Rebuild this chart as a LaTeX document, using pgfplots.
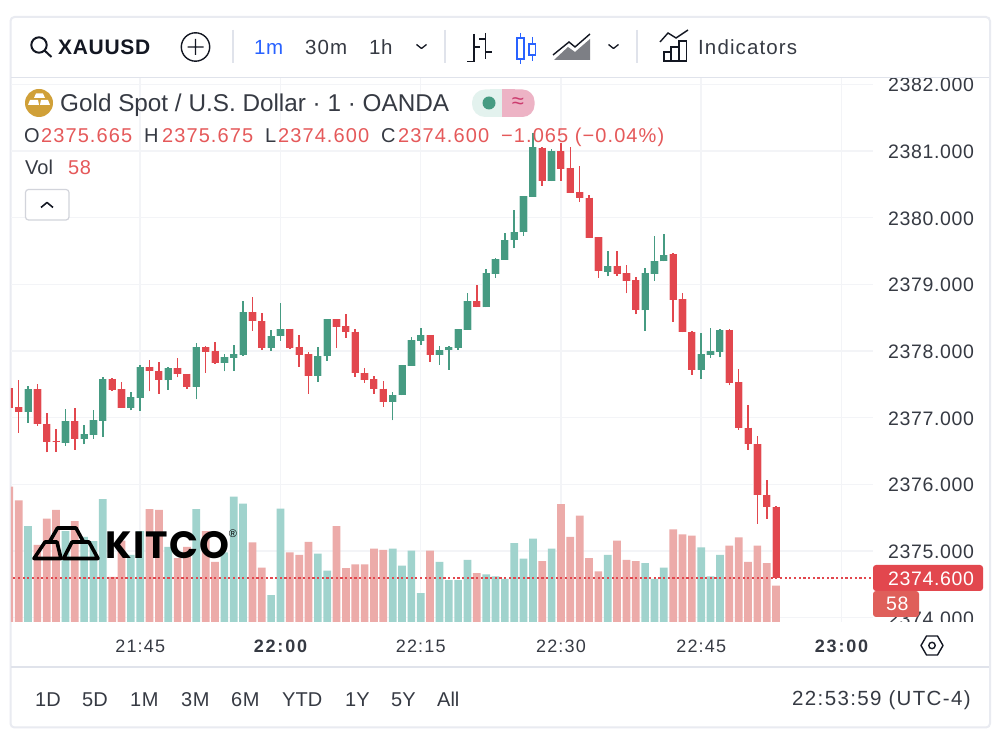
\documentclass[border=0pt]{standalone}
\usepackage{pgfplots}
\usepackage{pgfplotstable}
\usepackage{fontspec}
\pgfplotsset{compat=1.18}
\setmainfont{Liberation Sans}
\newfontfamily\kitcofont{Poppins}[LetterSpace=3]
\newfontfamily\lsthree{Liberation Sans}[LetterSpace=3.2]
\newfontfamily\lsfive{Liberation Sans}[LetterSpace=5.4]
\newfontfamily\lssix{Liberation Sans}[LetterSpace=6.6]
\newfontfamily\lsten{Liberation Sans}[LetterSpace=10]
\definecolor{ink}{HTML}{131722}
\definecolor{upc}{HTML}{469B82}
\definecolor{dnc}{HTML}{E2474E}
\definecolor{upv}{HTML}{A0D3CD}
\definecolor{dnv}{HTML}{ECABA9}
\definecolor{gridc}{HTML}{F3F4F7}
\definecolor{framec}{HTML}{E0E3EB}
\definecolor{txtred}{HTML}{E5595A}
\definecolor{tvblue}{HTML}{2962FF}
\definecolor{goldc}{HTML}{D0A038}
\definecolor{pillg}{HTML}{E3F2EE}
\definecolor{pillr}{HTML}{EDB3C5}
\definecolor{pilltx}{HTML}{CC3B6E}
\definecolor{volTag}{HTML}{DF5F5A}
\pgfplotstableread{
x o h l c v
-27 2377.09 2377.475 2376.925 2377.425 153
-23 2376.625 2377.125 2376.58 2376.945 145
-21 2376.68 2376.89 2376.60 2376.75 136
-20 2376.74 2377.11 2376.68 2376.96 129
-19 2376.95 2377.61 2376.715 2377.58 196
-16 2377.145 2377.39 2377.11 2377.31 107
-15 2377.30 2377.785 2377.10 2377.765 145
-12 2377.56 2377.755 2377.415 2377.75 120
-9 2377.465 2378.115 2377.275 2378.055 180
-6 2377.82 2377.95 2377.695 2377.905 111
-5 2377.90 2378.09 2377.705 2377.95 200
-4 2377.94 2378.745 2377.93 2378.58 189
-1 2378.045 2378.315 2378.00 2378.23 43
0 2378.225 2378.72 2378.15 2378.335 181
4 2377.63 2378.06 2377.54 2377.925 109
5 2377.92 2378.475 2377.85 2378.475 82
12 2377.235 2377.39 2376.96 2377.34 117
13 2377.34 2377.785 2377.335 2377.785 90
14 2377.78 2378.205 2377.78 2378.16 114
15 2378.155 2378.34 2378.095 2378.24 46
17 2377.945 2378.08 2377.79 2378.02 96
18 2378.015 2378.07 2377.72 2378.055 67
19 2378.045 2378.325 2378.02 2378.325 67
20 2378.32 2378.865 2378.32 2378.755 99
22 2378.655 2379.225 2378.655 2379.165 76
23 2379.16 2379.40 2379.10 2379.375 73
24 2379.37 2379.77 2379.37 2379.665 69
25 2379.666 2380.116 2379.541 2379.786 126
26 2379.78 2380.326 2379.73 2380.326 101
27 2380.316 2381.266 2380.316 2381.056 133
29 2380.55 2381.026 2380.55 2381.006 117
35 2379.19 2379.496 2379.12 2379.28 107
39 2378.61 2379.246 2378.30 2379.166 94
40 2379.16 2379.726 2379.056 2379.35 69
41 2379.346 2379.76 2379.346 2379.446 87
45 2377.72 2378.265 2377.58 2377.95 119
46 2377.94 2378.345 2377.90 2377.995 73
47 2377.99 2378.325 2377.905 2378.315 107
}\upT
\pgfplotstableread{
x o h l c v
-29 2377.44 2377.44 2377.15 2377.15 216
-28 2377.155 2377.565 2376.775 2377.09 194
-26 2377.425 2377.50 2376.88 2376.905 123
-25 2376.91 2377.065 2376.48 2376.64 165
-24 2376.655 2376.83 2376.49 2376.635 179
-22 2376.945 2377.145 2376.515 2376.68 161
-18 2377.58 2377.60 2377.40 2377.415 72
-17 2377.425 2377.53 2377.15 2377.15 130
-14 2377.765 2377.87 2377.395 2377.70 180
-13 2377.705 2377.835 2377.355 2377.56 179
-11 2377.75 2377.895 2377.605 2377.65 102
-10 2377.66 2377.66 2377.43 2377.46 120
-8 2378.055 2378.08 2377.675 2377.99 145
-7 2378.00 2378.14 2377.805 2377.815 96
-3 2378.58 2378.815 2378.30 2378.45 127
-2 2378.45 2378.57 2378.02 2378.045 87
1 2378.335 2378.335 2378.025 2378.045 111
2 2378.06 2378.235 2377.765 2377.945 107
3 2377.955 2377.99 2377.36 2377.63 128
6 2378.475 2378.475 2378.05 2378.365 153
7 2378.37 2378.56 2378.20 2378.285 86
8 2378.29 2378.335 2377.615 2377.665 92
9 2377.67 2377.745 2377.525 2377.57 92
10 2377.575 2377.625 2377.36 2377.43 117
11 2377.435 2377.545 2377.16 2377.235 115
16 2378.24 2378.24 2377.835 2377.945 114
21 2378.755 2378.99 2378.655 2378.655 78
28 2381.05 2381.056 2380.476 2380.55 97
30 2381.00 2381.116 2380.556 2380.736 188
31 2380.746 2381.066 2380.376 2380.376 136
32 2380.38 2380.776 2380.24 2380.29 170
33 2380.30 2380.34 2379.696 2379.696 102
34 2379.706 2379.706 2379.096 2379.196 81
36 2379.28 2379.506 2379.13 2379.156 130
37 2379.166 2379.29 2378.866 2379.056 99
38 2379.06 2379.106 2378.55 2378.61 97
42 2379.45 2379.466 2378.44 2378.77 148
43 2378.78 2378.876 2378.28 2378.28 140
44 2378.29 2378.30 2377.64 2377.72 138
48 2378.315 2378.325 2377.485 2377.525 122
49 2377.53 2377.725 2376.82 2376.845 135
50 2376.85 2377.19 2376.52 2376.60 96
51 2376.605 2376.725 2375.41 2375.845 122
52 2375.845 2376.06 2375.485 2375.655 94
53 2375.665 2375.675 2374.60 2374.60 58
}\dnT
\pgfplotsset{pane/.style={at={(11pt,113pt)},anchor=south west,scale only axis,
  width=862pt,height=544pt,xmin=-28.82,xmax=63.37}}
\newcommand{\T}[6][base west]{\node[anchor=#1,inner sep=0pt,text=#5] at (#2,#3) {\fontsize{#4}{#4}\selectfont #6};}
\tikzset{px/.style={x=1pt,y=-1pt,shift={(0pt,735pt)}}}
\begin{document}
\begin{tikzpicture}
\path[use as bounding box,fill=white] (0pt,0pt) rectangle (1000pt,735pt);
\begin{scope}[px]
\draw[framec!70!white,line width=2pt,rounded corners=4pt,fill=white] (10.5,17) rectangle (990,727.5);
\end{scope}
% price pane: grid and ticks
\begin{axis}[pane,ymin=2373.934,ymax=2382.096,
  axis line style={draw=none},tick style={draw=none},
  grid=major,grid style={gridc,line width=1.5pt},
  xtick={-15,0,15,30,45,60},
  xticklabels={21:45,{\lsten\bfseries 22:00},22:15,22:30,22:45,{\lsten\bfseries 23:00}},
  ytick={2374,2375,2376,2377,2378,2379,2380,2381,2382},
  yticklabel pos=right,
  yticklabel style={anchor=west,inner sep=0pt,xshift=15pt,yshift=-0.8pt,
     text=ink!85!white,font=\lsthree\fontsize{19.5}{20}\selectfont,
     /pgf/number format/.cd,fixed,fixed zerofill,precision=3,1000 sep={},assume math mode=true},
  xticklabel style={anchor=base,inner sep=0pt,yshift=-31pt,text=ink!85!white,font=\lssix\fontsize{18}{20}\selectfont},
  ]
\addplot[draw=none,forget plot] coordinates {(0,2378) (1,2379)};
\end{axis}
% volume
\begin{axis}[pane,ymin=0,ymax=868.5,hide axis,clip=true]
\addplot[ybar,bar width=7.7pt,bar shift=0pt,fill=upv,draw=none] table[x=x,y=v] {\upT};
\addplot[ybar,bar width=7.7pt,bar shift=0pt,fill=dnv,draw=none] table[x=x,y=v] {\dnT};
\end{axis}
% logo
\begin{scope}[px,line width=3.6pt,black,line join=round]
\draw (34,558.5)--(45,542)--(57,542)--(61,558.5)--cycle;
\draw (63.5,558.5)--(72,542)--(89,542)--(98,558.5)--cycle;
\draw (50,541)--(57.5,528)--(76,528)--(83,541);
\node[anchor=base west,inner sep=0pt,text=black] at (104,559) {\kitcofont\fontsize{38}{38}\selectfont\bfseries KITCO};
\node[anchor=center,inner sep=0pt,text=black] at (233,534) {\fontsize{11}{11}\selectfont ®};
\end{scope}
% candles
\begin{axis}[pane,ymin=2373.934,ymax=2382.096,hide axis,clip=true]
\addplot[only marks,mark=square*,mark size=0.6pt,color=dnc,mark options={draw=none,fill=dnc},forget plot] coordinates {
(-28.5,2374.6)(-28,2374.6)(-27.5,2374.6)(-27,2374.6)(-26.5,2374.6)(-26,2374.6)(-25.5,2374.6)(-25,2374.6)(-24.5,2374.6)(-24,2374.6)
(-23.5,2374.6)(-23,2374.6)(-22.5,2374.6)(-22,2374.6)(-21.5,2374.6)(-21,2374.6)(-20.5,2374.6)(-20,2374.6)(-19.5,2374.6)(-19,2374.6)
(-18.5,2374.6)(-18,2374.6)(-17.5,2374.6)(-17,2374.6)(-16.5,2374.6)(-16,2374.6)(-15.5,2374.6)(-15,2374.6)(-14.5,2374.6)(-14,2374.6)
(-13.5,2374.6)(-13,2374.6)(-12.5,2374.6)(-12,2374.6)(-11.5,2374.6)(-11,2374.6)(-10.5,2374.6)(-10,2374.6)(-9.5,2374.6)(-9,2374.6)
(-8.5,2374.6)(-8,2374.6)(-7.5,2374.6)(-7,2374.6)(-6.5,2374.6)(-6,2374.6)(-5.5,2374.6)(-5,2374.6)(-4.5,2374.6)(-4,2374.6)
(-3.5,2374.6)(-3,2374.6)(-2.5,2374.6)(-2,2374.6)(-1.5,2374.6)(-1,2374.6)(-0.5,2374.6)(0,2374.6)(0.5,2374.6)(1,2374.6)
(1.5,2374.6)(2,2374.6)(2.5,2374.6)(3,2374.6)(3.5,2374.6)(4,2374.6)(4.5,2374.6)(5,2374.6)(5.5,2374.6)(6,2374.6)
(6.5,2374.6)(7,2374.6)(7.5,2374.6)(8,2374.6)(8.5,2374.6)(9,2374.6)(9.5,2374.6)(10,2374.6)(10.5,2374.6)(11,2374.6)
(11.5,2374.6)(12,2374.6)(12.5,2374.6)(13,2374.6)(13.5,2374.6)(14,2374.6)(14.5,2374.6)(15,2374.6)(15.5,2374.6)(16,2374.6)
(16.5,2374.6)(17,2374.6)(17.5,2374.6)(18,2374.6)(18.5,2374.6)(19,2374.6)(19.5,2374.6)(20,2374.6)(20.5,2374.6)(21,2374.6)
(21.5,2374.6)(22,2374.6)(22.5,2374.6)(23,2374.6)(23.5,2374.6)(24,2374.6)(24.5,2374.6)(25,2374.6)(25.5,2374.6)(26,2374.6)
(26.5,2374.6)(27,2374.6)(27.5,2374.6)(28,2374.6)(28.5,2374.6)(29,2374.6)(29.5,2374.6)(30,2374.6)(30.5,2374.6)(31,2374.6)
(31.5,2374.6)(32,2374.6)(32.5,2374.6)(33,2374.6)(33.5,2374.6)(34,2374.6)(34.5,2374.6)(35,2374.6)(35.5,2374.6)(36,2374.6)
(36.5,2374.6)(37,2374.6)(37.5,2374.6)(38,2374.6)(38.5,2374.6)(39,2374.6)(39.5,2374.6)(40,2374.6)(40.5,2374.6)(41,2374.6)
(41.5,2374.6)(42,2374.6)(42.5,2374.6)(43,2374.6)(43.5,2374.6)(44,2374.6)(44.5,2374.6)(45,2374.6)(45.5,2374.6)(46,2374.6)
(46.5,2374.6)(47,2374.6)(47.5,2374.6)(48,2374.6)(48.5,2374.6)(49,2374.6)(49.5,2374.6)(50,2374.6)(50.5,2374.6)(51,2374.6)
(51.5,2374.6)(52,2374.6)(52.5,2374.6)(53,2374.6)(53.5,2374.6)(54,2374.6)(54.5,2374.6)(55,2374.6)(55.5,2374.6)(56,2374.6)
(56.5,2374.6)(57,2374.6)(57.5,2374.6)(58,2374.6)(58.5,2374.6)(59,2374.6)(59.5,2374.6)(60,2374.6)(60.5,2374.6)(61,2374.6)
(61.5,2374.6)(62,2374.6)(62.5,2374.6)(63,2374.6)};
\addplot[draw=none,mark=none,error bars/.cd,y dir=plus,y explicit,error mark=none,
  error bar style={upc,line width=1.6pt}] table[x=x,y=l,y error expr=\thisrow{h}-\thisrow{l}] {\upT};
\addplot[draw=none,mark=none,error bars/.cd,y dir=plus,y explicit,error mark=none,
  error bar style={dnc,line width=1.6pt}] table[x=x,y=l,y error expr=\thisrow{h}-\thisrow{l}] {\dnT};
\addplot[draw=none,mark=none,error bars/.cd,y dir=plus,y explicit,error mark=none,
  error bar style={upc!30!white,line width=8.3pt}] table[x=x,y=o,y error expr=\thisrow{c}-\thisrow{o}] {\upT};
\addplot[draw=none,mark=none,error bars/.cd,y dir=minus,y explicit,error mark=none,
  error bar style={dnc!30!white,line width=8.3pt}] table[x=x,y=o,y error expr=\thisrow{o}-\thisrow{c}] {\dnT};
\addplot[draw=none,mark=none,error bars/.cd,y dir=plus,y explicit,error mark=none,
  error bar style={upc,line width=7pt}] table[x=x,y=o,y error expr=\thisrow{c}-\thisrow{o}] {\upT};
\addplot[draw=none,mark=none,error bars/.cd,y dir=minus,y explicit,error mark=none,
  error bar style={dnc,line width=7pt}] table[x=x,y=o,y error expr=\thisrow{o}-\thisrow{c}] {\dnT};
\end{axis}
\begin{scope}[px]
% cover below pane on the price scale
\fill[white] (874,622.5) rectangle (988,633);
% separators
\draw[framec,line width=1.5pt] (11,77.5)--(989,77.5);
\draw[framec,line width=1.5pt] (11,667)--(989,667);
\draw[framec,line width=1.2pt] (233,30)--(233,63) (445,30)--(445,63) (637,30)--(637,63);
% toolbar
\draw[ink,line width=2pt] (39,45) circle (7.7) (44.7,50.7)--(51.5,57);
\T{58}{54.5}{21}{ink}{\lsthree\bfseries XAUUSD}
\draw[ink,line width=1.4pt] (195.5,47) circle (14.2) (187.5,47)--(203.5,47) (195.5,39)--(195.5,55);
\T{254}{55}{20.5}{tvblue}{\lsthree 1m}
\T{305}{55}{20.5}{ink!85!white}{\lsfive 30m}
\T{369}{55}{20.5}{ink!85!white}{\lsthree 1h}
\draw[ink,line width=1.3pt,line join=round] (416.5,44.5)--(421.5,48.5)--(426.5,44.5);
\draw[ink,line width=1.3pt,line join=round] (608.5,44.5)--(613.5,48.5)--(618.5,44.5);
% bars icon
\draw[ink,line width=1.5pt] (474,34)--(474,61.5)--(467,61.5) (474,47)--(480,47) (485.5,33)--(485.5,59) (479,39)--(485.5,39) (485.5,52)--(492,52);
% candle icon
\draw[tvblue,line width=1.5pt,fill=white] (517,38) rectangle (524,59) (529,44) rectangle (535.5,55);
\draw[tvblue,line width=1.5pt] (520.5,33)--(520.5,38) (520.5,59)--(520.5,64) (532.3,37)--(532.3,44) (532.3,55)--(532.3,61);
% area icon
\fill[ink,opacity=.55] (554,60)--(568,47)--(575,52)--(590,39)--(590,60)--cycle;
\draw[ink,line width=1.4pt] (553,55)--(569,42)--(575,47)--(590,34);
% indicators icon
\draw[ink,line width=1.4pt] (660,42)--(668,33)--(676,38)--(688,30);
\draw[ink,line width=1.4pt] (664,61) rectangle (671,52) (671,61) rectangle (679,47) (679,61) rectangle (686.5,41);
\T{698}{55}{20.5}{ink!85!white}{\lsfive Indicators}
% legend
\fill[goldc] (39,103) circle (14);
\fill[white] (36,93.5)--(43,93.5)--(45,98)--(34,98)--cycle (30,100)--(38,100)--(39,105)--(28,105)--cycle (41,100)--(48,100)--(50,105)--(40,105)--cycle;
\T{60}{112}{24.3}{ink!85!white}{Gold Spot / U.S. Dollar · 1 · OANDA}
\fill[pillg,rounded corners=13pt] (472,89.5) rectangle (505,117);
\fill[pillg] (490,89.5) rectangle (503,117);
\fill[upc] (489,103) circle (6.5);
\fill[pillr,rounded corners=12pt] (502,89.5) rectangle (534.5,117);
\fill[pillr] (502,89.5) rectangle (515,117);
\T[center]{518}{103}{22}{pilltx}{≈}
% OHLC
\T{24}{142.7}{20}{ink!85!white}{O}
\T{41}{142.7}{20}{txtred}{\lsfive 2375.665}
\T{144}{142.7}{20}{ink!85!white}{H}
\T{162}{142.7}{20}{txtred}{\lsfive 2375.675}
\T{265}{142.7}{20}{ink!85!white}{L}
\T{278}{142.7}{20}{txtred}{\lsfive 2374.600}
\T{381}{142.7}{20}{ink!85!white}{C}
\T{398}{142.7}{20}{txtred}{\lsfive 2374.600}
\T{501}{142.7}{20}{txtred}{\lsfive −1.065 (−0.04\%)}
\T{25}{174.7}{20}{ink!85!white}{Vol}
\T{68}{174.7}{20}{txtred}{\lsthree 58}
\draw[framec!85!gray,line width=1.2pt,rounded corners=3pt,fill=white] (25.5,189.5) rectangle (69,220);
\draw[ink,line width=1.6pt,line join=round] (41,207.5)--(47,202.5)--(53,207.5);
% price tags
\fill[dnc] (873,565)--(979,565) [rounded corners=3pt] --(983,565)--(983,591)--(873,591)--cycle;
\T{888}{585.5}{19.5}{white}{\lsthree 2374.600}
\fill[volTag,rounded corners=3pt] (873,591) rectangle (919,617);
\T{886}{611}{19.5}{white}{\lsthree 58}
% hexagon
\draw[ink,line width=1.4pt,line join=round] (921,645.5)--(926.5,636)--(937.5,636)--(943,645.5)--(937.5,655)--(926.5,655)--cycle;
\draw[ink,line width=1.4pt] (932,645.5) circle (3.2);
% range bar
\T{35}{706.5}{20}{ink!85!white}{1D}
\T{82}{706.5}{20}{ink!85!white}{5D}
\T{130}{706.5}{20}{ink!85!white}{\lsthree 1M}
\T{181}{706.5}{20}{ink!85!white}{\lsthree 3M}
\T{231}{706.5}{20}{ink!85!white}{\lsthree 6M}
\T{282}{706.5}{20}{ink!85!white}{YTD}
\T{345}{706.5}{20}{ink!85!white}{1Y}
\T{391}{706.5}{20}{ink!85!white}{5Y}
\T{437}{706.5}{20}{ink!85!white}{All}
\T{792}{706}{20.5}{ink!85!white}{\lssix 22:53:59 (UTC-4)}
\end{scope}
\end{tikzpicture}
\end{document}
